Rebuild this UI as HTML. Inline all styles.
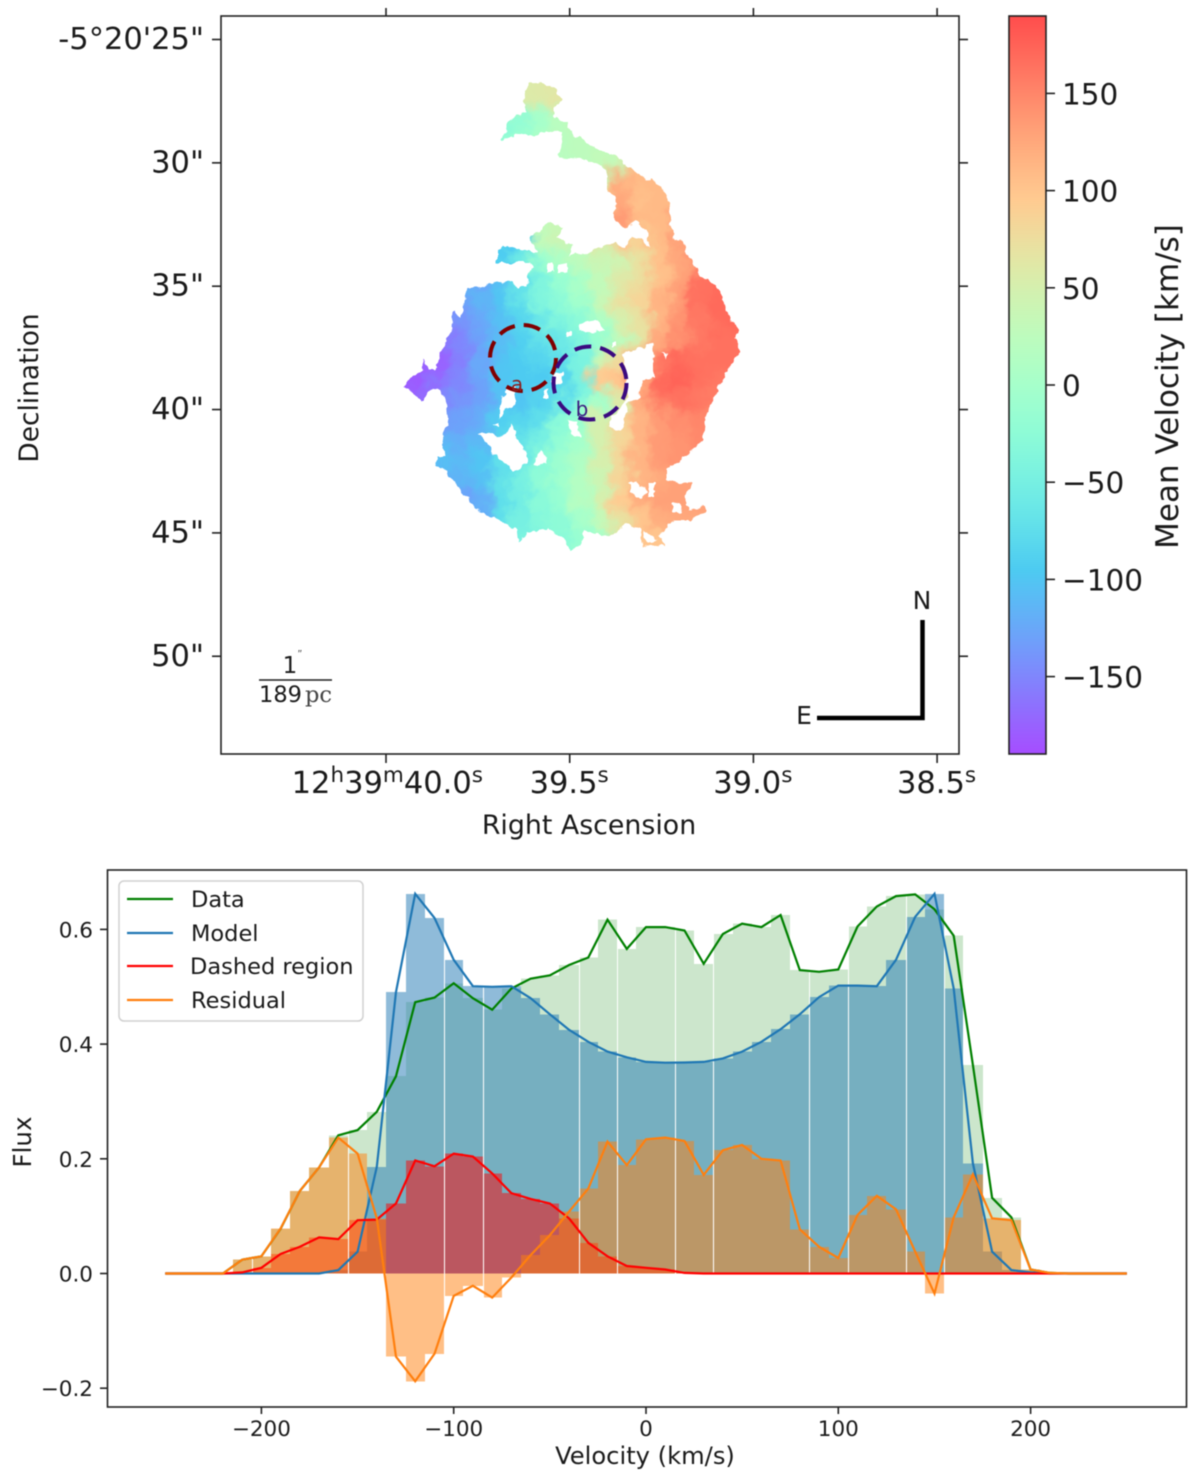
<!DOCTYPE html>
<html lang="en">
<head>
<meta charset="utf-8">
<title>Mean velocity map and spectrum</title>
<style>
html,body{margin:0;padding:0;background:#fff;width:1200px;height:1481px;overflow:hidden}
svg{display:block;filter:blur(0.45px)}
text{font-family:"DejaVu Sans","Liberation Sans",sans-serif;fill:#1a1a1a}
</style>
</head>
<body>
<svg id="fig" xmlns="http://www.w3.org/2000/svg" width="1200" height="1481" viewBox="0 0 1200 1481">
<defs>
<linearGradient id="cbGrad" x1="0" y1="1" x2="0" y2="0"></linearGradient>
<filter id="smooth" filterUnits="userSpaceOnUse" x="370" y="50" width="400" height="540" color-interpolation-filters="sRGB">
<feGaussianBlur in="SourceGraphic" stdDeviation="4.5" result="b"/>
<feTurbulence type="fractalNoise" baseFrequency="0.06" numOctaves="3" seed="4" result="n"/>
<feDisplacementMap in="b" in2="n" scale="22" xChannelSelector="R" yChannelSelector="G"/>
</filter>
<filter id="rough" filterUnits="userSpaceOnUse" x="370" y="50" width="400" height="540" color-interpolation-filters="sRGB">
<feTurbulence type="fractalNoise" baseFrequency="0.14" numOctaves="2" seed="9" result="n2"/>
<feDisplacementMap in="SourceGraphic" in2="n2" scale="7" xChannelSelector="R" yChannelSelector="G"/>
</filter>
<clipPath id="galaxyClip"><path clip-rule="evenodd" d="M524,92 L530,83 L543,82 L553,88 L562,99 L554,107 L554,115 L560,122 L568,123 L571,132 L580,138 L597,150 L617,156 L627,167 L643,177 L653,180 L667,195 L671,222 L673,240 L683,241 L687,255 L702,277 L717,285 L727,310 L730,320 L740,330 L735,337 L740,350 L727,372 L717,390 L705,418 L703,440 L680,460 L667,470 L667,480 L680,483 L693,482 L685,497 L688,510 L705,506 L705,512 L692,520 L673,520 L658,537 L665,545 L643,547 L640,530 L627,523 L610,537 L583,530 L582,543 L570,552 L567,542 L547,528 L527,533 L518,543 L517,530 L500,520 L480,512 L463,493 L447,473 L435,463 L438,457 L445,457 L442,437 L448,423 L445,400 L438,388 L427,392 L423,400 L418,400 L415,395 L403,388 L413,375 L422,372 L423,358 L428,370 L435,370 L443,347 L452,327 L453,312 L460,317 L468,288 L480,287 L500,282 L513,283 L517,287 L527,287 L528,272 L533,268 L530,263 L497,263 L497,250 L510,247 L520,250 L537,252 L530,237 L550,223 L563,227 L557,238 L573,245 L568,255 L587,253 L597,248 L613,243 L623,247 L633,238 L643,240 L650,248 L647,233 L635,220 L627,228 L618,225 L613,213 L617,198 L607,192 L607,172 L597,163 L580,158 L558,157 L562,133 L547,130 L533,137 L520,133 L502,140 L508,123 L517,115 L526,113 Z
M478,433 L487,432 L503,437 L512,425 L517,440 L527,455 L527,463 L513,472 L503,460 L493,455 L490,447 Z
M533,465 L540,450 L547,457 L548,463 Z
M500,403 L508,387 L516,387 L516,405 L508,407 L500,420 Z
M493,425 L498,422 L498,427 Z
M623,355 L653,343 L655,378 L642,380 L640,397 L627,405 L622,432 L610,428 L610,420 L627,400 L625,367 Z
M662,352 L668,353 L667,359 Z
M580,323 L597,320 L605,330 L593,332 L580,330 Z
M567,420 L577,422 L580,438 L570,433 Z
M553,375 L563,372 L562,380 L553,387 Z
M543,393 L548,388 L548,398 L543,398 Z
M612,342 L617,342 L617,346 L612,346 Z
M630,483 L638,482 L647,492 L640,500 L630,492 Z
M648,483 L655,483 L655,497 L649,497 Z
M672,503 L680,502 L682,513 L673,512 Z
M643,530 L658,540 L647,543 Z
M547,262 L553,262 L553,272 L547,272 Z
M558,265 L567,263 L567,273 L558,273 Z
M567,332 L572,332 L572,336 L567,336 Z"/></clipPath>
</defs>

<!-- top panel -->
<g filter="url(#rough)"><g id="mapLayer" clip-path="url(#galaxyClip)"><g id="mapCells" filter="url(#smooth)"></g></g></g>
<circle cx="523" cy="358" r="33" fill="none" stroke="#800000" stroke-width="4" stroke-dasharray="17 9"/>
<circle cx="590" cy="383" r="36.5" fill="none" stroke="#3a0a80" stroke-width="4" stroke-dasharray="17 9"/>
<text x="517" y="391" font-size="20" text-anchor="middle" style="fill:#8b2020">a</text>
<text x="582" y="416" font-size="20" text-anchor="middle" style="fill:#3a1a80">b</text>
<rect x="221" y="16" width="738" height="738" fill="none" stroke="#222" stroke-width="1.6"/>
<g id="mapTicks" stroke="#222" stroke-width="1.6"></g>
<g id="mapLabels" font-size="30.5"></g>
<text x="589" y="834" font-size="26.8" text-anchor="middle">Right Ascension</text>
<text transform="translate(38,388) rotate(-90)" font-size="26.4" text-anchor="middle">Declination</text>

<text x="290" y="673" font-size="23" text-anchor="middle">1</text>
<text x="300" y="657" font-size="10" text-anchor="middle" style="font-family:'Liberation Serif',serif">″</text>
<line x1="259" y1="680" x2="332" y2="680" stroke="#222" stroke-width="1.6"/>
<text x="259" y="702" font-size="22.5">189<tspan dx="3" style="font-family:'DejaVu Serif','Liberation Serif',serif;fill:#444">pc</tspan></text>
<path d="M922.5,620 V718 H817" fill="none" stroke="#000" stroke-width="4.5"/>
<text x="922" y="609" font-size="25" text-anchor="middle">N</text>
<text x="804" y="724" font-size="25" text-anchor="middle">E</text>

<!-- colorbar -->
<rect x="1009" y="16" width="37" height="738" fill="url(#cbGrad)" stroke="#222" stroke-width="1.6"/>
<g id="cbTicks" stroke="#222" stroke-width="1.6"></g>
<g id="cbLabels" font-size="29.5"></g>
<text transform="translate(1178,386.5) rotate(-90)" font-size="31" text-anchor="middle">Mean Velocity [km/s]</text>

<!-- bottom panel -->
<g id="bars" shape-rendering="crispEdges"></g>
<g id="lines"></g>
<rect x="107.5" y="870" width="1079" height="537" fill="none" stroke="#222" stroke-width="1.6"/>
<g id="specTicks" stroke="#222" stroke-width="1.6"></g>
<g id="specLabels" font-size="21.5"></g>
<text x="645" y="1464" font-size="24.2" text-anchor="middle">Velocity (km/s)</text>
<text transform="translate(31,1142) rotate(-90)" font-size="24.5" text-anchor="middle">Flux</text>

<g>
<rect x="119" y="881" width="244" height="140" rx="5" fill="#fff" fill-opacity="0.85" stroke="#d0d0d0" stroke-width="1.5"/>
<line x1="127" y1="899" x2="173" y2="899" stroke="#008000" stroke-width="2.2"/>
<text x="191" y="907" font-size="22.5">Data</text>
<line x1="127" y1="933" x2="173" y2="933" stroke="#1f77b4" stroke-width="2.2"/>
<text x="191" y="941" font-size="22.5">Model</text>
<line x1="127" y1="966" x2="173" y2="966" stroke="#ff0000" stroke-width="2.2"/>
<text x="190" y="974" font-size="22.5">Dashed region</text>
<line x1="127" y1="1000" x2="173" y2="1000" stroke="#ff7f0e" stroke-width="2.2"/>
<text x="191" y="1008" font-size="22.5">Residual</text>
</g>
</svg>

<script>
// ---- spectrum data ----
const velocities = [-250,-240,-230,-220,-210,-200,-190,-180,-170,-160,-150,-140,-130,-120,-110,-100,-90,-80,-70,-60,-50,-40,-30,-20,-10,0,10,20,30,40,50,60,70,80,90,100,110,120,130,140,150,160,170,180,190,200,210,220,230,240,250];
const dataFlux = [0,0,0,0,.024,.03,.078,.144,.185,.241,.25,.282,.344,.473,.481,.506,.48,.46,.497,.514,.52,.538,.551,.617,.566,.604,.604,.598,.54,.592,.61,.604,.625,.529,.526,.53,.605,.64,.658,.661,.635,.589,.3635,.132,.098,.007,.001,0,0,0,0];
const modelFlux = [0,0,0,0,0,0,0,0,0,.006,.038,.186,.491,.662,.62,.547,.501,.5,.501,.48,.452,.425,.404,.387,.377,.369,.3675,.368,.369,.375,.387,.404,.426,.452,.482,.502,.502,.501,.547,.622,.662,.497,.192,.038,.006,.002,0,0,0,0,0];
const dashedFlux = [0,0,0,0,.002,.01,.034,.0465,.063,.06,.093,.094,.122,.197,.187,.209,.204,.1745,.14,.13,.122,.096,.0535,.03,.013,.01,.007,.001,0,0,0,0,0,0,0,0,0,0,0,0,0,0,0,0,0,0,0,0,0,0,0];
const residualFlux = [0,0,0,0,.024,.03,.0785,.144,.185,.237,.209,.096,-.145,-.188,-.14,-.039,-.0215,-.042,-.007,.032,.067,.108,.148,.23,.189,.234,.237,.231,.172,.215,.224,.2,.197,.077,.0465,.027,.102,.1355,.112,.038,-.035,.098,.173,.096,.093,.007,.001,0,0,0,0];
const seamEdges = [-205,-155,-105,-85,-35,-15,15,35,85,105,135,155];
const specXTicks = [-200,-100,0,100,200];
const specYTicks = [-0.2,0,0.2,0.4,0.6];

// ---- map data ----
const raTickLabels = [["12","h","39","m","40.0","s"],["39.5","s"],["39.0","s"],["38.5","s"]];
const decTickLabels = ["-5°20'25\"","30\"","35\"","40\"","45\"","50\""];
const cbTickValues = [-150,-100,-50,0,50,100,150];
const velocityGrid = [
[60,60,60,60,60,60,55,60,65,65,60,60,60,60,60,60,60,60],
[60,60,60,60,60,60,55,60,65,65,60,60,60,60,60,60,60,60],
[-30,-30,-30,-30,-30,-30,-20,0,20,25,30,30,30,30,30,30,30,30],
[-20,-20,-20,-20,-20,-20,-10,5,22,25,25,28,30,30,30,30,30,30],
[20,20,20,20,20,20,20,20,20,25,30,40,110,110,110,110,110,110],
[20,20,20,20,20,20,20,20,25,30,40,120,110,110,110,110,110,110],
[30,30,30,30,30,30,30,30,30,35,100,125,105,110,110,110,110,110],
[30,30,30,30,30,30,30,30,35,40,100,135,110,110,130,130,130,130],
[-95,-95,-95,-95,-95,-95,-95,30,40,40,60,100,90,110,130,140,140,140],
[-90,-90,-90,-90,-90,-90,-60,-10,10,25,40,45,70,105,125,145,145,145],
[-125,-125,-125,-125,-125,-105,-70,-40,-15,5,30,60,75,105,130,165,170,170],
[-150,-150,-150,-130,-115,-100,-70,-40,-25,-5,35,70,85,115,135,165,170,170],
[-150,-150,-150,-140,-125,-105,-85,-65,-40,-25,10,50,70,115,140,160,170,170],
[-165,-165,-165,-150,-130,-110,-90,-70,-60,-40,-15,25,70,125,145,160,165,165],
[-175,-175,-175,-155,-125,-100,-95,-85,-75,-45,40,80,120,160,170,165,165,165],
[-180,-180,-160,-150,-130,-100,-95,-95,-85,-50,95,100,130,170,175,165,160,160],
[-175,-170,-150,-140,-130,-105,-100,-85,-75,-35,0,60,120,155,165,160,155,155],
[-135,-135,-135,-130,-120,-90,-85,-75,-30,-10,50,85,115,135,145,150,150,150],
[-120,-120,-115,-120,-110,-85,-70,-50,-20,0,50,85,115,135,140,148,148,148],
[-105,-105,-105,-110,-100,-75,-60,-30,-10,10,50,80,115,135,140,145,145,145],
[-120,-120,-120,-115,-105,-70,-50,-25,-5,15,40,85,115,125,130,130,130,130],
[-130,-130,-130,-130,-120,-75,-55,-30,-15,15,50,95,120,130,130,130,130,130],
[-130,-130,-130,-130,-120,-75,-50,-35,-25,0,30,70,100,120,125,125,125,125],
[-120,-120,-120,-120,-100,-60,-45,-40,-30,-15,0,70,100,100,100,100,100,100],
[-120,-120,-120,-120,-100,-60,-45,-40,-30,-15,0,70,100,100,100,100,100,100]
];

// ---- helpers ----
const NS = "http://www.w3.org/2000/svg";
const specX = v => 646 + 1.923 * v;
const specY = f => 1273.5 - 573.5 * f;
const cbY = v => 385 - 1.944 * v;
const fmtNeg = v => String(v).replace('-', '\u2212');

function rainbow(t){
  const r = Math.min(1, Math.abs(2*t - 0.5));
  const g = Math.sin(Math.PI * t);
  const b = Math.cos(Math.PI * t / 2);
  const a = 0.7, m = c => Math.round(255 * (c * a + 1 - a));
  return "rgb(" + m(r) + "," + m(g) + "," + m(b) + ")";
}
const velColor = v => rainbow(Math.max(0, Math.min(1, (v + 190) / 380)));

// colorbar gradient
const grad = document.getElementById("cbGrad");
for (let i = 0; i <= 32; i++) {
  const s = document.createElementNS(NS, "stop");
  s.setAttribute("offset", (i / 32));
  s.setAttribute("stop-color", rainbow(i / 32));
  grad.appendChild(s);
}

// velocity map cells
const mapCells = document.getElementById("mapCells");
velocityGrid.forEach((row, r) => {
  row.forEach((val, c) => {
    const cell = document.createElementNS(NS, "rect");
    
    
    cell.setAttribute("x", 390 + c * 20);
    cell.setAttribute("y", 70 + r * 20);
    cell.setAttribute("width", 20.5);
    cell.setAttribute("height", 20.5);
    cell.setAttribute("fill", velColor(val));
    mapCells.appendChild(cell);
  });
});

function addTick(parent, name, x1, y1, x2, y2) {
  const l = document.createElementNS(NS, "line");
  
  
  l.setAttribute("x1", x1); l.setAttribute("y1", y1);
  l.setAttribute("x2", x2); l.setAttribute("y2", y2);
  parent.appendChild(l);
}
function addLabel(parent, name, x, y, anchor, str) {
  const t = document.createElementNS(NS, "text");
  
  
  t.setAttribute("x", x); t.setAttribute("y", y);
  t.setAttribute("text-anchor", anchor);
  t.textContent = str;
  parent.appendChild(t);
  return t;
}

// map axes
const mapTicks = document.getElementById("mapTicks");
const mapLabels = document.getElementById("mapLabels");
const raX = i => 386 + 183.7 * i;
const decY = i => 39.5 + 123.35 * i;
raTickLabels.forEach((parts, i) => {
  addTick(mapTicks, "ra-tick-top", raX(i), 16, raX(i), 8);
  addTick(mapTicks, "ra-tick-bottom", raX(i), 754, raX(i), 763);
  const t = addLabel(mapLabels, "ra-tick-label", i === 0 ? 483 : raX(i) + 39, 793, "end", "");
  parts.forEach((p, k) => {
    const sp = document.createElementNS(NS, "tspan");
    sp.textContent = p;
    if (k % 2 === 1) { sp.setAttribute("font-size", "21.5"); sp.setAttribute("dy", "-11"); }
    else if (k > 0) { sp.setAttribute("dy", "11"); }
    t.appendChild(sp);
  });
});
decTickLabels.forEach((lab, i) => {
  addTick(mapTicks, "dec-tick-left", 221, decY(i), 212, decY(i));
  addTick(mapTicks, "dec-tick-right", 959, decY(i), 968, decY(i));
  addLabel(mapLabels, "dec-tick-label", 204, decY(i) + 9.5, "end", lab);
});

// colorbar axis
const cbTicks = document.getElementById("cbTicks");
const cbLabels = document.getElementById("cbLabels");
cbTickValues.forEach(v => {
  addTick(cbTicks, "colorbar-tick", 1046, cbY(v), 1055, cbY(v));
  addLabel(cbLabels, "colorbar-tick-label", 1062, cbY(v) + 11, "start", fmtNeg(v));
});

// spectrum bars
const barsG = document.getElementById("bars");
function drawBars(series, color, alpha, name) {
  series.forEach((f, i) => {
    if (f === 0) return;
    const v = velocities[i];
    const left = Math.round(specX(v - 5)) + (seamEdges.includes(v - 5) ? 1 : 0);
    const right = Math.round(specX(v + 5));
    const y0 = specY(Math.max(f, 0));
    const y1 = specY(Math.min(f, 0));
    const b = document.createElementNS(NS, "rect");
    
    
    b.setAttribute("x", left);
    b.setAttribute("y", y0);
    b.setAttribute("width", right - left);
    b.setAttribute("height", y1 - y0);
    b.setAttribute("fill", color);
    b.setAttribute("fill-opacity", alpha);
    barsG.appendChild(b);
  });
}
drawBars(dataFlux, "#008000", 0.2, "data-bar");
drawBars(modelFlux, "#1f77b4", 0.5, "model-bar");
drawBars(dashedFlux, "#ff0000", 0.5, "dashed-bar");
drawBars(residualFlux, "#ff7f0e", 0.5, "residual-bar");

// spectrum lines
const linesG = document.getElementById("lines");
function drawLine(series, color, name) {
  const p = document.createElementNS(NS, "polyline");
  
  
  p.setAttribute("points", series.map((f, i) => specX(velocities[i]).toFixed(1) + "," + specY(f).toFixed(1)).join(" "));
  p.setAttribute("fill", "none");
  p.setAttribute("stroke", color);
  p.setAttribute("stroke-width", "2.2");
  linesG.appendChild(p);
}
drawLine(dataFlux, "#008000", "data-line");
drawLine(modelFlux, "#1f77b4", "model-line");
drawLine(dashedFlux, "#ff0000", "dashed-line");
drawLine(residualFlux, "#ff7f0e", "residual-line");

// spectrum axes
const specTicks = document.getElementById("specTicks");
const specLabels = document.getElementById("specLabels");
specXTicks.forEach(v => {
  addTick(specTicks, "x-tick", specX(v), 1407, specX(v), 1414);
  addLabel(specLabels, "x-tick-label", specX(v), 1436, "middle", fmtNeg(v));
});
specYTicks.forEach(f => {
  addTick(specTicks, "y-tick", 107.5, specY(f), 100, specY(f));
  addLabel(specLabels, "y-tick-label", 93, specY(f) + 8, "end", fmtNeg(f.toFixed(1)));
});
</script>
</body>
</html>
